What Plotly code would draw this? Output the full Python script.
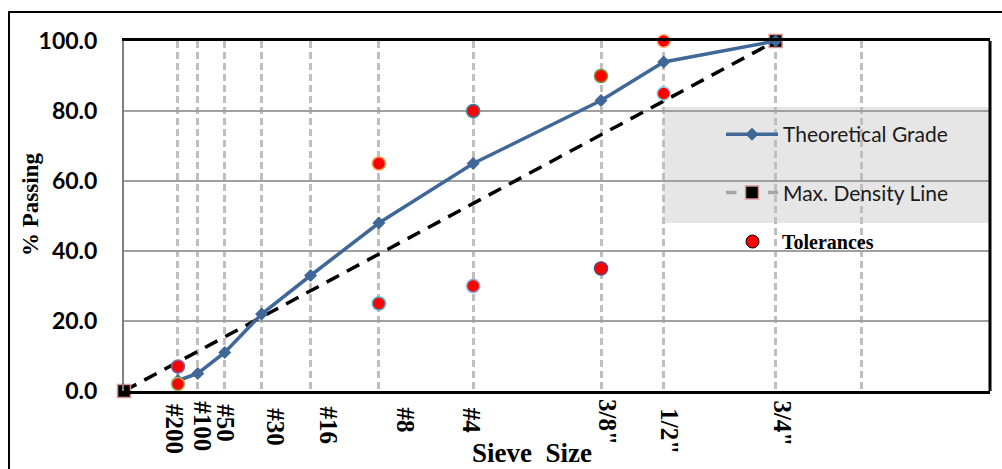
import numpy as np
import plotly.graph_objects as go

# Sieve sizes (mm) plotted on the 0.45-power gradation scale
sieve_labels = ["#200", "#100", "#50", "#30", "#16", "#8", "#4", "3/8\"", "1/2\"", "3/4\""]
sieve_mm = [0.075, 0.15, 0.3, 0.6, 1.18, 2.36, 4.75, 9.5, 12.5, 19.0]
grid_extra_mm = [25.0]  # 1" sieve, gridline only

# Theoretical grade (% passing)
theoretical_pct = [3, 5, 11, 22, 33, 48, 65, 83, 94, 100]

# Maximum density line end points
max_density_mm = [0.0, 19.0]
max_density_pct = [0, 100]

# Tolerance limits (% passing)
tol_mm = [0.075, 0.075, 2.36, 2.36, 4.75, 4.75, 9.5, 9.5, 12.5, 12.5]
tol_pct = [2, 7, 65, 25, 80, 30, 90, 35, 100, 85]
tol_edge = ["#9BBB59", "#8064A2", "#F79646", "#4BACC6", "#31849B",
            "#8EA9D6", "#77933C", "#5F497A", "#FAC090", "#93CDDD"]

y_ticks = [0, 20, 40, 60, 80, 100]

P = 0.45
def pw(v):
    return np.power(np.asarray(v, dtype=float), P)

# label placement tweaks (pixels)
label_dx = [-3, 5, 1, 14, 18, 27, -1, 7, 6, 7]
label_dy = [11, 8, 11, 15, 13, 15, 15, 6, 15, 7]

W, H = 1002, 469
ML, MR, MT, MB = 124, 12, 41, 78
PW, PH = W - ML - MR, H - MT - MB

def px_x(px):
    return (px - ML) / PW

def px_y(py):
    return (H - MB - py) / PH

fig = go.Figure()

fig.add_trace(go.Scatter(
    x=pw(max_density_mm), y=max_density_pct, mode="lines+markers",
    line=dict(color="black", width=3.5, dash="14px,9px"),
    marker=dict(symbol="square", size=13, color="black",
                line=dict(color="#D99694", width=1.5)),
    showlegend=False, cliponaxis=False))

fig.add_trace(go.Scatter(
    x=pw(sieve_mm), y=theoretical_pct, mode="lines+markers",
    name="Theoretical Grade", legendgroup="a",
    line=dict(color="#3F6797", width=3.5),
    marker=dict(symbol="diamond", size=10, color="#3F6797"),
    cliponaxis=False, legend="legend"))

# legend entry for the max density line
fig.add_trace(go.Scatter(
    x=[None], y=[None], mode="lines+markers", name="Max. Density Line",
    legendgroup="b",
    line=dict(color="#A6A6A6", width=3.5, dash="dash"),
    marker=dict(symbol="square", size=13, color="black",
                line=dict(color="#D99694", width=1.5)),
    legend="legend"))

fig.add_trace(go.Scatter(
    x=pw(tol_mm), y=tol_pct, mode="markers",
    marker=dict(symbol="circle", size=13, color="#FF0000",
                line=dict(color=tol_edge, width=1.5)),
    showlegend=False, cliponaxis=False))

fig.add_trace(go.Scatter(
    x=[None], y=[None], mode="markers", name="Tolerances",
    marker=dict(symbol="circle", size=13, color="#FF0000",
                line=dict(color="black", width=1)),
    legend="legend2"))

# sieve labels under the axis
for lab, mm, dx, dy in zip(sieve_labels, sieve_mm, label_dx, label_dy):
    fig.add_annotation(
        x=float(pw(mm)), y=0, xref="x", yref="y", text=lab, showarrow=False,
        textangle=90, xanchor="center", yanchor="top", xshift=dx, yshift=-dy,
        font=dict(family="Liberation Serif", size=25, color="black", weight="bold"))

fig.add_annotation(
    x=px_x(532), y=px_y(453), xref="paper", yref="paper",
    text="Sieve\u00a0 Size", showarrow=False, xanchor="center", yanchor="middle",
    font=dict(family="Liberation Serif", size=27, color="black", weight="bold"))

fig.add_annotation(
    x=px_x(31), y=px_y(205), xref="paper", yref="paper",
    text="% Passing", showarrow=False, textangle=-90,
    xanchor="center", yanchor="middle",
    font=dict(family="Liberation Serif", size=23, color="black", weight="bold"))

shapes = [
    # legend panel
    dict(type="rect", xref="paper", yref="paper",
         x0=px_x(663), x1=1.0, y0=px_y(223), y1=px_y(107),
         fillcolor="#E6E6E6", line=dict(width=0), layer="between"),
    # right border of plot area
    dict(type="line", xref="paper", yref="paper", x0=1, x1=1, y0=0, y1=1,
         line=dict(color="black", width=3), layer="above"),
    # outer frame
    dict(type="rect", xref="paper", yref="paper",
         x0=px_x(9), x1=1.2, y0=-0.6, y1=px_y(12),
         line=dict(color="black", width=2), fillcolor="rgba(0,0,0,0)", layer="above"),
]

fig.update_layout(
    width=W, height=H,
    margin=dict(l=ML, r=MR, t=MT, b=MB),
    paper_bgcolor="white", plot_bgcolor="white",
    shapes=shapes,
    xaxis=dict(
        range=[0, 5.0], tickvals=list(pw(sieve_mm + grid_extra_mm)),
        showticklabels=False, ticks="",
        showgrid=True, gridcolor="#BFBFBF", gridwidth=3, griddash="7px,4px",
        showline=True, linecolor="black", linewidth=3, mirror=True,
        zeroline=False, fixedrange=True),
    yaxis=dict(
        range=[0, 100], tickvals=y_ticks, tickformat=".1f",
        showgrid=True, gridcolor="#A0A0A0", gridwidth=2,
        showline=True, linecolor="#7F7F7F", linewidth=2,
        zeroline=False, ticks="", ticklabelstandoff=20,
        tickfont=dict(family="Lato", size=23, color="black", weight="bold"),
        fixedrange=True),
    legend=dict(
        x=px_x(721), y=px_y(114), xanchor="left", yanchor="top",
        bgcolor="rgba(0,0,0,0)", itemwidth=52, tracegroupgap=28,
        traceorder="grouped",
        font=dict(family="Lato", size=21, color="#1A1A1A")),
    legend2=dict(
        x=px_x(723), y=px_y(222), xanchor="left", yanchor="top",
        bgcolor="rgba(0,0,0,0)", itemwidth=49,
        font=dict(family="Liberation Serif", size=20, color="black", weight="bold")),
)

fig.write_html("out.html")
